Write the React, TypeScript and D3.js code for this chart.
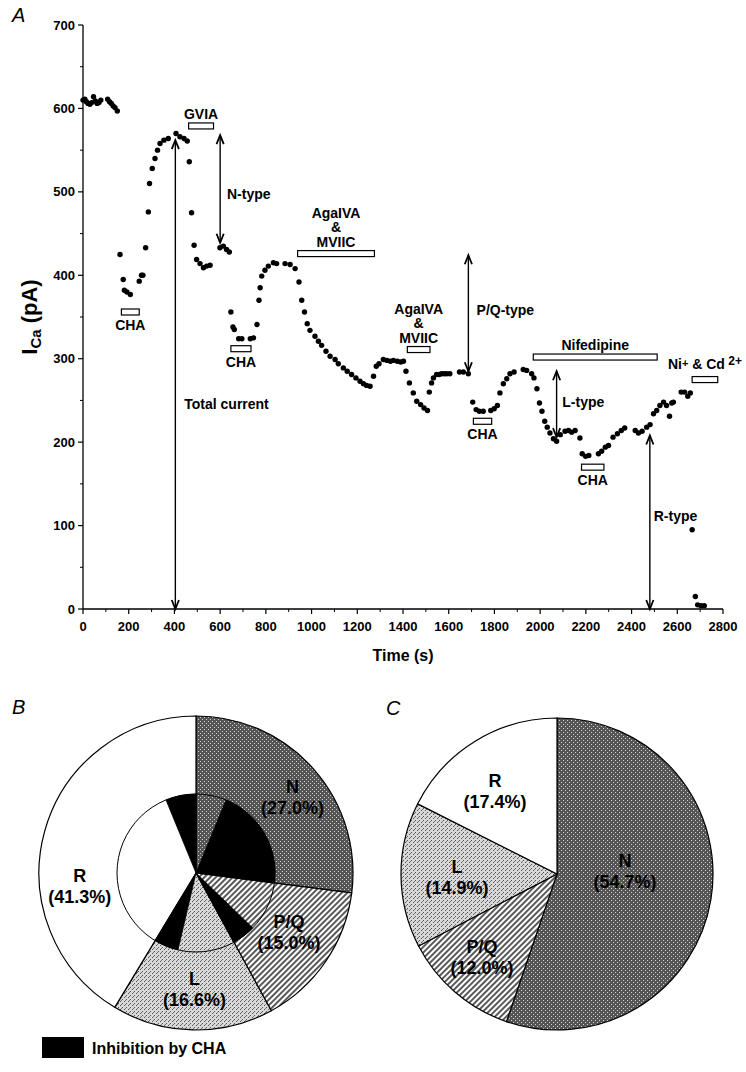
import React from "react";
import * as d3 from "d3";

// ---------- Panel A data ----------
const times = [
  0, 8, 15, 22, 30, 38, 46, 54, 62, 70, 78,
  108, 116, 124, 132, 140, 150,
  162, 176, 181, 192, 207, 246, 256, 262,
  274, 286, 291, 303, 315, 326, 337, 354, 373,
  407, 424, 442, 456,
  465, 475, 486, 497, 512, 527, 541, 556,
  599, 614, 628, 640,
  647, 656, 662, 681, 695, 732, 746, 761,
  770, 775, 782, 796, 811, 833, 847, 884, 906, 928,
  945, 957, 969, 981, 993, 1015, 1030, 1044, 1063, 1081, 1103, 1117, 1139, 1156, 1175, 1194, 1212, 1227, 1241, 1256,
  1271, 1283, 1295, 1314, 1330, 1345, 1358, 1375, 1390, 1402,
  1413, 1428, 1445, 1460, 1477, 1492, 1507,
  1515, 1525, 1533, 1547, 1558, 1569, 1580, 1591, 1605,
  1647, 1664, 1686,
  1705, 1720, 1734, 1751, 1784, 1799, 1813, 1824, 1839, 1854, 1868, 1886,
  1926, 1941, 1963, 1973, 1986, 1997, 2008, 2020, 2031, 2043, 2058, 2072,
  2088, 2109, 2124, 2138, 2153, 2174,
  2184, 2199, 2213, 2255, 2269, 2285, 2299,
  2319, 2338, 2355, 2370,
  2416, 2430, 2446, 2466, 2481,
  2496, 2510, 2524, 2540, 2553, 2566, 2576, 2583,
  2617, 2632, 2646, 2657,
  2665, 2679, 2689, 2704, 2718,
];
const currents = [
  610, 611, 608, 606, 605, 607, 614, 609, 606, 607, 610,
  611, 608, 606, 603, 601, 597,
  425, 395, 382, 380, 377, 393, 400, 400,
  433, 476, 510, 528, 540, 550, 558, 562, 564,
  570, 566, 564, 561,
  536, 475, 436, 419, 414, 409, 411, 412,
  433, 435, 431, 428,
  356, 338, 335, 324, 324, 324, 325, 341,
  370, 385, 399, 406, 411, 415, 414, 414, 413, 408,
  392, 370, 356, 342, 334, 327, 321, 316, 309, 303, 299, 294, 289, 285, 281, 277, 273, 270, 268, 267,
  279, 291, 294, 299, 298, 297, 298, 297, 296, 297,
  285, 271, 259, 249, 245, 241, 238,
  260, 271, 277, 281, 281, 282, 282, 282, 282,
  284, 284, 282,
  248, 239, 237, 237, 238, 240, 244, 259, 270, 276, 282, 284,
  287, 286, 282, 277, 264, 247, 237, 225, 218, 211, 204, 201,
  209, 213, 214, 212, 214, 205,
  186, 183, 184, 186, 189, 194, 196,
  206, 210, 214, 217,
  214, 211, 213, 218, 221,
  234, 238, 244, 248, 244, 231, 247, 248,
  260, 260, 255, 259,
  95, 15, 5, 4, 4,
];

const xTicks = d3.range(0, 2801, 200);
const xMinor = d3.range(100, 2800, 200);
const yTicks = d3.range(0, 701, 100);
const yMinor = d3.range(50, 700, 100);

// drug application bars: [start s, end s, level pA]
const barLabels = [["CHA"], ["GVIA"], ["CHA"], ["AgaIVA", "&", "MVIIC"], ["AgaIVA", "&", "MVIIC"], ["CHA"], ["Nifedipine"], ["CHA"], ["NICD"]];
const barStart = [168, 462, 647, 939, 1419, 1708, 1970, 2181, 2665];
const barEnd = [246, 571, 735, 1275, 1518, 1788, 2512, 2279, 2777];
const barLevel = [356, 579, 312, 426, 311, 225, 302, 170, 275];
const barLabelBelow = [true, false, true, false, false, true, false, true, false];

// double arrows: [time, from pA, to pA]
const arrowLabels = ["Total current", "N-type", "P/Q-type", "L-type", "R-type"];
const arrowTime = [404, 600, 1686, 2072, 2480];
const arrowTop = [562, 568, 424, 285, 208];
const arrowBottom = [0, 439, 285, 206, 0];
const arrowLabelTime = [443, 630, 1722, 2097, 2497];
const arrowLabelLevel = [246, 498, 358, 248, 112];

// ---------- Panel B / C data ----------
const types = ["N", "P/Q", "L", "R"];
const sharesB = [27.0, 15.0, 16.6, 41.3];
const chaInhibitionB = [77, 32, 30, 15]; // % of each type inhibited by CHA
const sharesC = [54.7, 12.0, 14.9, 17.4];

const fills = ["url(#patN)", "url(#patPQ)", "url(#patL)", "#ffffff"];

const FONT = "'Liberation Sans', Arial, Helvetica, sans-serif";

function Arrow({ x, y1, y2 }: { x: number; y1: number; y2: number }) {
  const hw = 3.6, hl = 9;
  return (
    <g stroke="#000" fill="none" strokeWidth={1.4}>
      <line x1={x} x2={x} y1={y1} y2={y2} />
      <path d={`M${x - hw},${y1 + hl} L${x},${y1} L${x + hw},${y1 + hl}`} strokeWidth={1.8} />
      <path d={`M${x - hw},${y2 - hl} L${x},${y2} L${x + hw},${y2 - hl}`} strokeWidth={1.8} />
    </g>
  );
}

function Pie({ cx, cy, r, shares, labelAdj, inner }: any) {
  const pie = d3.pie<number>().sort(null).value((d) => d);
  const arcs = pie(shares);
  const arc = d3.arc<any>().innerRadius(0).outerRadius(r);
  const deg = Math.PI / 180;
  return (
    <g transform={`translate(${cx},${cy})`}>
      {arcs.map((a, i) => (
        <path key={i} d={arc(a) as string} fill={fills[i]} stroke="#000" strokeWidth={1.2} />
      ))}
      {inner &&
        arcs.map((a, i) => {
          const span = a.endAngle - a.startAngle;
          const s = a.endAngle - (inner.frac[i] / 100) * span;
          const p = d3.arc<any>().innerRadius(0).outerRadius(inner.r)({ startAngle: s, endAngle: a.endAngle });
          return <path key={"b" + i} d={p as string} fill="#000" stroke="#000" strokeWidth={0.8} />;
        })}
      {inner && <circle r={inner.r} fill="none" stroke="#000" strokeWidth={1} />}
      {arcs.map((a, i) => {
        const mid = (a.startAngle + a.endAngle) / 2 + labelAdj[i].da * deg;
        const lx = Math.sin(mid) * labelAdj[i].r;
        const ly = -Math.cos(mid) * labelAdj[i].r;
        return (
          <text key={"t" + i} x={lx} y={ly} textAnchor="middle" fontSize={18} fontWeight="bold" fill="#000" fontFamily={FONT}>
            <tspan x={lx} dy={-4}>{types[i]}</tspan>
            <tspan x={lx} dy={21}>({shares[i].toFixed(1)}%)</tspan>
          </text>
        );
      })}
    </g>
  );
}

export default function App() {
  const x = d3.scaleLinear().domain([0, 2800]).range([83, 723]);
  const y = d3.scaleLinear().domain([0, 700]).range([609, 25]);

  const labelAdjB = [
    { da: 3, r: 123 },
    { da: -2, r: 110 },
    { da: -0.5, r: 116 },
    { da: -22, r: 117 },
  ];
  const labelAdjC = [
    { da: -12, r: 68 },
    { da: 1.3, r: 112 },
    { da: -1.6, r: 100 },
    { da: -5, r: 104 },
  ];

  return (
    <svg
      width={746}
      height={1072}
      style={{ position: "absolute", left: 0, top: 0, background: "#fff" }}
      fontFamily={FONT}
    >
      <defs>
        <pattern id="patN" width={4} height={4} patternUnits="userSpaceOnUse">
          <rect width={4} height={4} fill="#555" />
          <rect x={0} y={0} width={1} height={1} fill="#d0d0d0" />
          <rect x={2} y={2} width={1} height={1} fill="#d0d0d0" />
        </pattern>
        <pattern id="patL" width={4} height={4} patternUnits="userSpaceOnUse">
          <rect width={4} height={4} fill="#d8d8d8" />
          <rect x={0} y={0} width={1} height={1} fill="#555" />
          <rect x={2} y={2} width={1} height={1} fill="#555" />
          <rect x={1} y={3} width={1} height={1} fill="#777" />
        </pattern>
        <pattern id="patPQ" width={4} height={4} patternUnits="userSpaceOnUse" patternTransform="rotate(45)">
          <rect width={4} height={4} fill="#fff" />
          <line x1={1} x2={1} y1={0} y2={4} stroke="#000" strokeWidth={1.3} />
        </pattern>
      </defs>

      {/* ---------- Panel A ---------- */}
      <text x={12} y={22} fontSize={20} fontStyle="italic" fontFamily={FONT}>A</text>

      {/* axes */}
      <line x1={x(0)} x2={x(0)} y1={y(0)} y2={y(700)} stroke="#000" strokeWidth={1.3} />
      <line x1={x(0)} x2={x(2800)} y1={y(0)} y2={y(0)} stroke="#000" strokeWidth={1.3} />
      {yTicks.map((t) => (
        <g key={"yt" + t}>
          <line x1={x(0) - 5} x2={x(0)} y1={y(t)} y2={y(t)} stroke="#000" strokeWidth={1.2} />
          <text x={x(0) - 8} y={y(t) + 4.5} textAnchor="end" fontSize={13} fontWeight="bold">{t}</text>
        </g>
      ))}
      {yMinor.map((t) => (
        <line key={"ym" + t} x1={x(0) - 3} x2={x(0)} y1={y(t)} y2={y(t)} stroke="#000" strokeWidth={1} />
      ))}
      {xTicks.map((t) => (
        <g key={"xt" + t}>
          <line x1={x(t)} x2={x(t)} y1={y(0)} y2={y(0) + 5} stroke="#000" strokeWidth={1.2} />
          <text x={x(t)} y={y(0) + 22} textAnchor="middle" fontSize={13} fontWeight="bold">{t}</text>
        </g>
      ))}
      {xMinor.map((t) => (
        <line key={"xm" + t} x1={x(t)} x2={x(t)} y1={y(0)} y2={y(0) + 3} stroke="#000" strokeWidth={1} />
      ))}
      <text x={(x(0) + x(2800)) / 2} y={661} textAnchor="middle" fontSize={16} fontWeight="bold">Time (s)</text>
      <text transform={`translate(37,${y(350)}) rotate(-90)`} textAnchor="middle" fontSize={22} fontWeight="bold">
        I<tspan fontSize={15} dy={4}>Ca</tspan>
        <tspan dy={-4}> (pA)</tspan>
      </text>

      {/* data points */}
      {times.map((t, i) => (
        <circle key={"p" + i} cx={x(t)} cy={y(currents[i])} r={2.7} fill="#000" />
      ))}

      {/* drug bars */}
      {barStart.map((t0, i) => {
        const by = y(barLevel[i]);
        const cxm = (x(t0) + x(barEnd[i])) / 2;
        const lines = barLabels[i];
        return (
          <g key={"bar" + i}>
            <rect x={x(t0)} y={by - 3} width={x(barEnd[i]) - x(t0)} height={6} fill="#fff" stroke="#000" strokeWidth={1.2} />
            {lines[0] === "NICD" ? (
              <text x={cxm} y={by - 11} textAnchor="middle" fontSize={14} fontWeight="bold">
                Ni<tspan fontSize={11} dy={-2}>+</tspan>
                <tspan dy={2}> &amp; Cd</tspan>
                <tspan fontSize={12} dy={-4}> 2+</tspan>
              </text>
            ) : barLabelBelow[i] ? (
              <text x={cxm} y={by + 18} textAnchor="middle" fontSize={14} fontWeight="bold">{lines[0]}</text>
            ) : (
              lines.map((s, j) => (
                <text key={j} x={cxm} y={by - 7 - (lines.length - 1 - j) * 14.5} textAnchor="middle" fontSize={14} fontWeight="bold">
                  {s}
                </text>
              ))
            )}
          </g>
        );
      })}

      {/* arrows */}
      {arrowTime.map((t, i) => (
        <g key={"ar" + i}>
          <Arrow x={x(t)} y1={y(arrowTop[i])} y2={y(arrowBottom[i])} />
          <text x={x(arrowLabelTime[i])} y={y(arrowLabelLevel[i]) + 5} fontSize={14} fontWeight="bold">
            {arrowLabels[i]}
          </text>
        </g>
      ))}

      {/* ---------- Panel B ---------- */}
      <text x={12} y={714} fontSize={20} fontStyle="italic">B</text>
      <Pie cx={196} cy={873} r={157} shares={sharesB} labelAdj={labelAdjB} inner={{ r: 79, frac: chaInhibitionB }} />

      {/* legend */}
      <rect x={42} y={1037} width={42} height={21} fill="#000" />
      <text x={92} y={1054} fontSize={16} fontWeight="bold">Inhibition by CHA</text>

      {/* ---------- Panel C ---------- */}
      <text x={386} y={715} fontSize={20} fontStyle="italic">C</text>
      <Pie cx={557} cy={874} r={156} shares={sharesC} labelAdj={labelAdjC} />
    </svg>
  );
}
